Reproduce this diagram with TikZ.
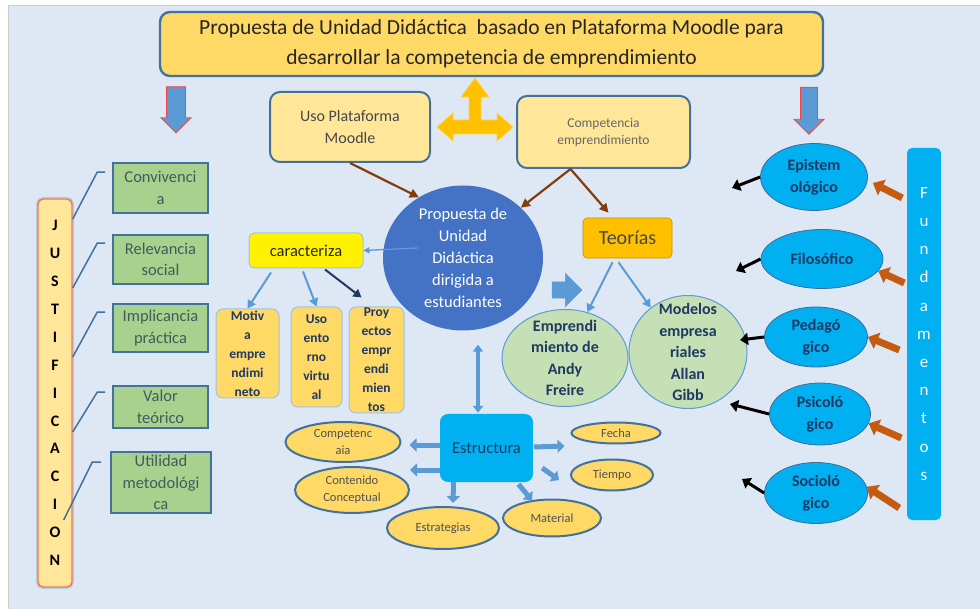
\documentclass[tikz,border=0pt]{standalone}
\usepackage{fontspec}
\setmainfont{Carlito}
\usepackage{tikz}
\usetikzlibrary{shapes.geometric,shapes.arrows,arrows.meta,calc}

\definecolor{sheet}{HTML}{DEE8F4}
\definecolor{gold}{HTML}{FFD966}
\definecolor{cream}{HTML}{FFE699}
\definecolor{amber}{HTML}{FFC000}
\definecolor{frame}{HTML}{41719C}
\definecolor{sky}{HTML}{5B9BD5}
\definecolor{pale}{HTML}{9DC3E6}
\definecolor{royal}{HTML}{4472C4}
\definecolor{aqua}{HTML}{00B0F0}
\definecolor{navy}{HTML}{1F3864}
\definecolor{leaf}{HTML}{A9D18E}
\definecolor{mint}{HTML}{C5E0B4}
\definecolor{rust}{HTML}{C55A11}
\definecolor{bark}{HTML}{843C0C}
\definecolor{coral}{HTML}{F07850}
\definecolor{ink}{HTML}{262626}
\definecolor{slate}{HTML}{3E5C5C}

\tikzset{
  every node/.append style={inner sep=0pt, align=center},
  banner/.style={draw=frame, line width=2.4pt, fill=gold, rounded corners=10pt,
    text=ink, font=\fontsize{21.5}{30}\selectfont},
  topic/.style={draw=frame, line width=2pt, fill=cream, rounded corners=10pt},
  trait/.style={draw=pale, line width=1pt, fill=gold, rounded corners=7pt,
    text=navy, font=\bfseries\fontsize{13.5}{19}\selectfont},
  reason/.style={draw=frame, line width=1.6pt, fill=leaf, text=slate,
    font=\fontsize{16.5}{21.5}\selectfont},
  basis/.style={ellipse, draw=sky!70!black, line width=0.8pt, fill=aqua,
    text=navy, font=\bfseries\fontsize{16}{22}\selectfont},
  theory/.style={ellipse, draw=sky, line width=1pt, fill=mint},
  theorytext/.style={text=navy, font=\bfseries\fontsize{16}{21.5}\selectfont},
  part/.style={ellipse, draw=frame, line width=2pt, fill=gold, text=ink!80,
    font=\fontsize{12.5}{17}\selectfont},
  column/.style={rounded corners=5pt, line width=1.4pt},
  drop/.style={single arrow, draw=red!75, line width=0.8pt, fill=sky,
    rotate=-90, inner xsep=0pt},
  link/.style={draw=frame, line width=1.5pt},
  feed/.style={draw=bark, line width=2.2pt, -{Triangle[length=9pt,width=9pt]}},
  fine/.style={draw=sky, line width=1.3pt, -{Triangle[length=6pt,width=6pt]}},
  lead/.style={draw=sky, line width=2pt, -{Triangle[length=8pt,width=9pt]}},
  fatarrow/.style={draw=sky, line width=5pt, -{Triangle[length=7pt,width=13pt]}},
  dbl/.style={draw=sky, line width=3.5pt,
    {Triangle[length=7pt,width=10pt]}-{Triangle[length=7pt,width=10pt]}},
  push/.style={draw=rust, line width=7pt, -{Triangle[length=10pt,width=17pt]}},
  jab/.style={draw=black, line width=3pt, -{Triangle[length=8pt,width=12pt]}},
}

\begin{document}
\begin{tikzpicture}[x=1pt, y=-1pt]
  \useasboundingbox (0,0) rectangle (980,609);
  \fill[white] (0,0) rectangle (980,609);
  \filldraw[fill=sheet, draw=gray!40] (8,5) rectangle (981,610);

  % top
  \node[banner, minimum width=663pt, minimum height=64pt] (title) at (491.5,44)
    {Propuesta de Unidad Didáctica\ \ basado en Plataforma Moodle para\\desarrollar la competencia de emprendimiento};
  \node[topic, minimum width=160pt, minimum height=70pt, text=ink!85,
    font=\fontsize{16}{22}\selectfont] (moodle) at (350,127) {Uso Plataforma\\Moodle};
  \node[topic, minimum width=173pt, minimum height=72pt, text=ink!70,
    font=\fontsize{13.5}{17}\selectfont] (skill) at (603.5,132) {Competencia\\emprendimiento};
  \filldraw[fill=amber, draw=amber!70!white, line width=0.8pt]
    (437,127) -- (453,113) -- (453,120) -- (469,120) -- (469,97) -- (461,97) -- (475,78)
    -- (489,97) -- (481,97) -- (481,120) -- (497,120) -- (497,113) -- (513,127)
    -- (497,141) -- (497,134) -- (453,134) -- (453,141) -- cycle;
  \node[drop, minimum height=46pt, inner ysep=9pt, single arrow head extend=5.5pt] (dropL) at (176,105) {};
  \node[drop, minimum height=47pt, inner ysep=8pt, single arrow head extend=6.5pt] (dropR) at (809,106.5) {};

  % centre
  \node[ellipse, fill=royal, text=white, minimum width=160pt, minimum height=145pt,
    font=\fontsize{16.5}{22}\selectfont] (plan) at (463,258)
    {Propuesta de\\Unidad\\Didáctica\\dirigida a\\estudiantes};
  \node[draw=amber!75!black, line width=0.6pt, fill=amber, rounded corners=4pt, text=ink!85,
    minimum width=89pt, minimum height=40pt, font=\fontsize{20}{24}\selectfont] (theo) at (627.5,238) {Teorías};
  \node[single arrow, fill=sky, draw=sky, minimum height=30pt, inner xsep=0pt, inner ysep=8pt,
    single arrow head extend=8.5pt] (nudge) at (563,290) {};
  \node[theory, minimum width=126pt, minimum height=97pt,
    label={[theorytext]center:{Emprendi\\miento de\\Andy\\Freire}}] (andy) at (565,358) {};
  \node[theory, minimum width=118pt, minimum height=113pt,
    label={[theorytext]center:{Modelos\\empresa\\riales\\Allan\\Gibb}}] (gibb) at (688,352) {};

  \node[draw=pale, line width=1pt, fill=yellow, rounded corners=5pt, text=ink,
    minimum width=114pt, minimum height=35pt, font=\fontsize{16.5}{20}\selectfont] (feat) at (306,250.5) {caracteriza};
  \node[trait, minimum width=63pt, minimum height=89pt] (motiv) at (247.5,353.5) {Motiv\\a\\empre\\ndimi\\neto};
  \node[trait, minimum width=51pt, minimum height=100pt] (virt) at (316.5,357) {Uso\\ento\\rno\\virtu\\al};
  \node[trait, minimum width=55pt, minimum height=106pt] (proj) at (376.5,360) {Proy\\ectos\\empr\\endi\\mien\\tos};

  \node[fill=aqua, rounded corners=8pt, text=navy, minimum width=93pt, minimum height=68pt,
    font=\fontsize{16.5}{20}\selectfont] (struct) at (486.5,448) {Estructura};
  \node[part, minimum width=115pt, minimum height=40pt] (comp) at (343,442) {Competenc\\aia};
  \node[part, minimum width=114pt, minimum height=46pt] (cont) at (352,490) {Contenido\\Conceptual};
  \node[part, minimum width=112pt, minimum height=42pt] (strat) at (443,528) {Estrategias};
  \node[part, minimum width=98pt, minimum height=37pt] (mat) at (552,518) {Material};
  \node[part, minimum width=89pt, minimum height=21pt] (date) at (616,433) {Fecha};
  \node[part, minimum width=82pt, minimum height=31pt] (time) at (612,475) {Tiempo};

  % left
  \node[column, draw=coral, fill=cream, text=black, minimum width=34pt, minimum height=388pt,
    preaction={draw=pale!80, line width=4pt},
    font=\bfseries\fontsize{16}{27.9}\selectfont] (just) at (55,393)
    {J\\U\\S\\T\\I\\F\\I\\C\\A\\C\\I\\O\\N};
  \node[reason, minimum width=95pt, minimum height=50pt] (r1) at (160.5,188) {Convivenci\\a};
  \node[reason, minimum width=95pt, minimum height=49pt] (r2) at (160.5,259.5) {Relevancia\\social};
  \node[reason, minimum width=95pt, minimum height=48pt] (r3) at (160.5,328) {Implicancia\\práctica};
  \node[reason, minimum width=95pt, minimum height=42pt] (r4) at (160.5,407) {Valor\\teórico};
  \node[reason, minimum width=100pt, minimum height=61pt] (r5) at (161,482.5) {Utilidad\\metodológi\\ca};

  % right
  \node[column, fill=aqua, text=white, minimum width=34pt, minimum height=372pt,
    font=\fontsize{17}{28.2}\selectfont] (found) at (924,334) {F\\u\\n\\d\\a\\m\\e\\n\\t\\o\\s};
  \node[basis, minimum width=107pt, minimum height=67pt] (epi) at (814,177) {Epistem\\ológico};
  \node[basis, minimum width=122pt, minimum height=59pt] (phi) at (822,259) {Filosófico};
  \node[basis, minimum width=103pt, minimum height=60pt] (ped) at (816,337) {Pedagó\\gico};
  \node[basis, minimum width=101pt, minimum height=62pt] (psy) at (820,414) {Psicoló\\gico};
  \node[basis, minimum width=103pt, minimum height=61pt] (soc) at (816,493) {Socioló\\gico};

  \coordinate (epiL) at (732,188);
  \coordinate (phiL) at (736,271);
  \coordinate (pedL) at (740,340);
  \coordinate (psyL) at (730,404);
  \coordinate (socL) at (742,479);

  % connectors
  \draw (moodle.south) edge[feed] (plan.126);
  \draw ($(skill.south)+(-33,0)$) edge[feed] (plan.41);
  \draw ($(skill.south)+(-33,0)$) edge[feed] ($(theo.north)+(-19,-5)$);
  \draw ($(theo.south)+(-15,4)$) edge[lead] (andy.64);
  \draw ($(theo.south)+(-9,4)$) edge[lead] (gibb.130);

  \draw ($(plan.west)+(35,-10)$) edge[fine] (feat.east);
  \draw ($(feat.south)+(-35,4)$) edge[lead] (motiv.north);
  \draw ($(feat.south)+(-3,3)$) edge[lead] (virt.north);
  \draw ($(feat.south)+(19,1)$) edge[lead, draw=navy] ($(proj.north)+(-15,-9)$);

  \draw ($(plan.south)+(15,14)$) edge[dbl] ($(struct.north)+(-8.5,-1)$);
  \draw ($(struct.west)+(0,-3)$) edge[fatarrow] ($(comp.east)+(8,3)$);
  \draw ($(struct.west)+(0,22)$) edge[fatarrow] ($(cont.east)+(0,-20)$);
  \draw ($(struct.south)+(-33,0)$) edge[fatarrow] ($(strat.north)+(10,-3)$);
  \draw ($(struct.south)+(32,2)$) edge[fatarrow] ($(mat.north)+(-20,2)$);
  \draw ($(struct.east)+(1,-1)$) edge[fatarrow] ($(date.west)+(-6,13)$);
  \draw ($(struct.east)+(9,20)$) edge[fatarrow] ($(time.west)+(-11,5)$);

  \draw[link] (just.east |- 0,219) -- ($(r1.north west)+(-15,10)$) -- ($(r1.north west)+(-7,10)$);
  \draw[link] (just.east |- 0,288) -- ($(r2.north west)+(-15,9)$) -- ($(r2.north west)+(-7,9)$);
  \draw[link] (just.east |- 0,357) -- ($(r3.north west)+(-15,9)$) -- ($(r3.north west)+(-7,9)$);
  \draw[link] (just.east |- 0,432) -- ($(r4.north west)+(-15,7)$) -- ($(r4.north west)+(-7,7)$);
  \draw[link] ($(just.east |- 0,520)+(-9,0)$) -- ($(r5.north west)+(-18,11)$) -- ($(r5.north west)+(-9,11)$);

  \draw ($(found.west)+(-4,-136)$) edge[push] ($(epi.east)+(5,6)$);
  \draw ($(found.west)+(-2,-51)$) edge[push] (phi.-12);
  \draw ($(found.west)+(-7,16)$) edge[push] (ped.east);
  \draw ($(found.west)+(-5,104)$) edge[push] (psy.-11);
  \draw ($(found.west)+(-7,174)$) edge[push] (soc.7);

  \draw (epi.west) edge[jab] (epiL);
  \draw (phi.west) edge[jab] (phiL);
  \draw (ped.west) edge[jab] (pedL);
  \draw (psy.west) edge[jab] (psyL);
  \draw (soc.west) edge[jab] (socL);
\end{tikzpicture}
\end{document}
